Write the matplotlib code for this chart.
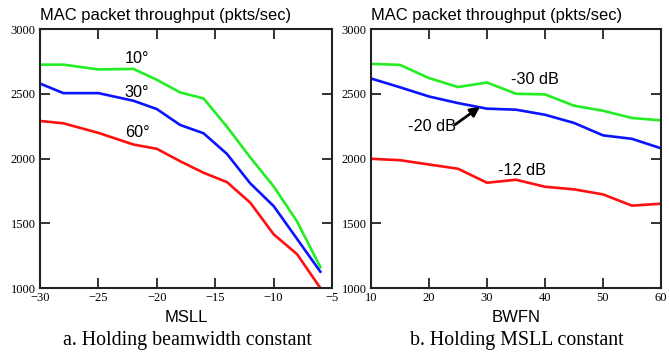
import numpy as np
import matplotlib
matplotlib.use("Agg")
import matplotlib.pyplot as plt

# panel a: throughput vs MSLL, one line per beamwidth
msll = [-30, -28, -25, -22, -20, -18, -16, -14, -12, -10, -8, -6]
bw10 = [2725, 2725, 2688, 2692, 2608, 2510, 2464, 2246, 2008, 1785, 1515, 1162]
bw30 = [2579, 2505, 2505, 2446, 2382, 2259, 2195, 2036, 1808, 1633, 1380, 1126]
bw60 = [2290, 2272, 2198, 2108, 2075, 1979, 1890, 1818, 1659, 1415, 1262, 1000]

# panel b: throughput vs BWFN, one line per MSLL
bwfn = [10, 15, 20, 25, 30, 35, 40, 45, 50, 55, 60]
m30 = [2731, 2723, 2621, 2552, 2587, 2500, 2495, 2408, 2369, 2313, 2295]
m20 = [2618, 2550, 2479, 2428, 2385, 2377, 2338, 2275, 2179, 2152, 2079]
m12 = [1998, 1987, 1954, 1921, 1813, 1836, 1782, 1762, 1723, 1636, 1651]

yticks = [1000, 1500, 2000, 2500, 3000]

GREEN = "#22ee22"
BLUE = "#0a14ff"
RED = "#ff1010"
lw = 1.9
SANS = "Liberation Sans"

fig = plt.figure(figsize=(6.69, 3.54), dpi=100)
ax1 = fig.add_axes([0.0598, 0.1864, 0.4365, 0.7316])
ax2 = fig.add_axes([0.5546, 0.1864, 0.4334, 0.7316])


def style(ax):
    ax.set_ylim(1000, 3000)
    ax.set_yticks(yticks)
    for s in ax.spines.values():
        s.set_linewidth(1.5)
        s.set_color("#222222")
    ax.tick_params(direction="in", length=7, width=1.3, top=True, right=True,
                   color="#222222", pad=3)
    for lab in ax.get_xticklabels() + ax.get_yticklabels():
        lab.set_fontfamily("Liberation Serif")
        lab.set_fontsize(9)
    ax.text(0.0, 1.025, "MAC packet throughput (pkts/sec)", transform=ax.transAxes,
            ha="left", va="bottom", fontsize=11.9, family=SANS)


ax1.plot(msll, bw10, color=GREEN, lw=lw)
ax1.plot(msll, bw30, color=BLUE, lw=lw)
ax1.plot(msll, bw60, color=RED, lw=lw)
ax1.set_xlim(-30, -5)
ax1.set_xticks([-30, -25, -20, -15, -10, -5])
style(ax1)
ax1.set_xlabel("MSLL", fontsize=12, family=SANS, labelpad=4)
ax1.text(-21.7, 2769, "10°", ha="center", va="center", fontsize=11.7, family=SANS)
ax1.text(-21.7, 2508, "30°", ha="center", va="center", fontsize=11.7, family=SANS)
ax1.text(-21.7, 2200, "60°", ha="center", va="center", fontsize=11.7, family=SANS)

ax2.plot(bwfn, m30, color=GREEN, lw=lw)
ax2.plot(bwfn, m20, color=BLUE, lw=lw)
ax2.plot(bwfn, m12, color=RED, lw=lw)
ax2.set_xlim(10, 60)
ax2.set_xticks([10, 20, 30, 40, 50, 60])
style(ax2)
ax2.set_xlabel("BWFN", fontsize=12, family=SANS, labelpad=4)
ax2.text(38.3, 2608, "-30 dB", ha="center", va="center", fontsize=11.7, family=SANS)
ax2.text(36, 1908, "-12 dB", ha="center", va="center", fontsize=11.7, family=SANS)
ax2.text(20.5, 2246, "-20 dB", ha="center", va="center", fontsize=11.7, family=SANS)
ax2.annotate("", xy=(28.8, 2400), xytext=(24.5, 2262),
             arrowprops=dict(arrowstyle="-|>", color="black", lw=2, shrinkA=0, shrinkB=0,
                             mutation_scale=14))

fig.text(187 / 669, 1 - 340 / 354, "a. Holding beamwidth constant", ha="center", va="center",
         fontsize=14.3, family="Liberation Serif")
fig.text(517 / 669, 1 - 340 / 354, "b. Holding MSLL constant", ha="center", va="center",
         fontsize=14.3, family="Liberation Serif")

fig.savefig("out.png", dpi=100)
